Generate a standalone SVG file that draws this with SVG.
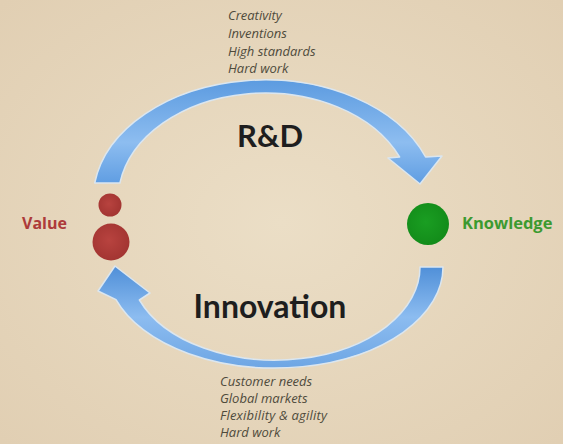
<svg xmlns="http://www.w3.org/2000/svg" width="563" height="444" viewBox="0 0 563 444">
<defs>
<radialGradient id="bg" cx="50%" cy="50%" r="70%">
<stop offset="0" stop-color="#ebdec6"/>
<stop offset="1" stop-color="#e1cfb3"/>
</radialGradient>
<linearGradient id="blueTop" x1="0" y1="0" x2="0" y2="1">
<stop offset="0" stop-color="#5c9be0"/>
<stop offset="0.6" stop-color="#8dbdf0"/>
<stop offset="1" stop-color="#5f9de2"/>
</linearGradient>
<linearGradient id="blueBot" x1="0" y1="0" x2="0" y2="1">
<stop offset="0" stop-color="#4f8fd8"/>
<stop offset="0.5" stop-color="#8cbcf0"/>
<stop offset="1" stop-color="#6ea6e4"/>
</linearGradient>
<radialGradient id="red" cx="45%" cy="45%" r="55%">
<stop offset="0" stop-color="#b8433f"/>
<stop offset="1" stop-color="#a33532"/>
</radialGradient>
<radialGradient id="green" cx="45%" cy="45%" r="55%">
<stop offset="0" stop-color="#1a9e22"/>
<stop offset="1" stop-color="#138c1a"/>
</radialGradient>
</defs>
<style>
.arrow{stroke:#dbe6ef;stroke-width:1.5;stroke-linejoin:round}
.note{font-family:"Open Sans","Liberation Sans",sans-serif;font-style:italic;font-size:13px;fill:#4f4b3c}
.big{font-family:Lato,"Open Sans",sans-serif;font-weight:bold;fill:#1e1e1e}
.lab{font-family:"Open Sans","Liberation Sans",sans-serif;font-weight:bold}
</style>
<rect width="563" height="444" fill="url(#bg)"/>
<g id="connectors">
<path id="rd-arrow" class="arrow" fill="url(#blueTop)" d="M 94.7,183 A 172,120 0 0 1 425.6,157 L 442,156 L 420,184 L 388,158 L 399.6,157 A 147,107 0 0 0 119.9,183 Z"/>
<path id="innovation-arrow" class="arrow" fill="url(#blueBot)" d="M 443,267 A 168,101 0 0 1 116,299.6 L 98,291 L 115,266 L 150,293 L 139.4,300 A 145,93 0 0 0 420,267 Z"/>
</g>
<g id="value">
<circle cx="110" cy="205" r="11.5" fill="url(#red)"/>
<circle cx="111" cy="242" r="18.5" fill="url(#red)"/>
<text class="lab" x="22" y="229" font-size="16" fill="#ad3b3a">Value</text>
</g>
<g id="knowledge">
<circle cx="428" cy="224" r="21" fill="url(#green)"/>
<text class="lab" x="462" y="229" font-size="16.5" fill="#3c9a30">Knowledge</text>
</g>
<g id="rd-label">
<text class="big" x="270" y="147" font-size="31" text-anchor="middle">R&amp;D</text>
</g>
<g id="innovation-label">
<text class="big" x="270" y="318" font-size="32" text-anchor="middle">Innovation</text>
</g>
<g id="rd-notes">
<text class="note" x="228" y="20">Creativity</text>
<text class="note" x="228" y="38">Inventions</text>
<text class="note" x="228" y="56">High standards</text>
<text class="note" x="228" y="73">Hard work</text>
</g>
<g id="innovation-notes">
<text class="note" x="220" y="386">Customer needs</text>
<text class="note" x="220" y="403">Global markets</text>
<text class="note" x="220" y="420" textLength="107" lengthAdjust="spacing">Flexibility &amp; agility</text>
<text class="note" x="220" y="437">Hard work</text>
</g>
</svg>
